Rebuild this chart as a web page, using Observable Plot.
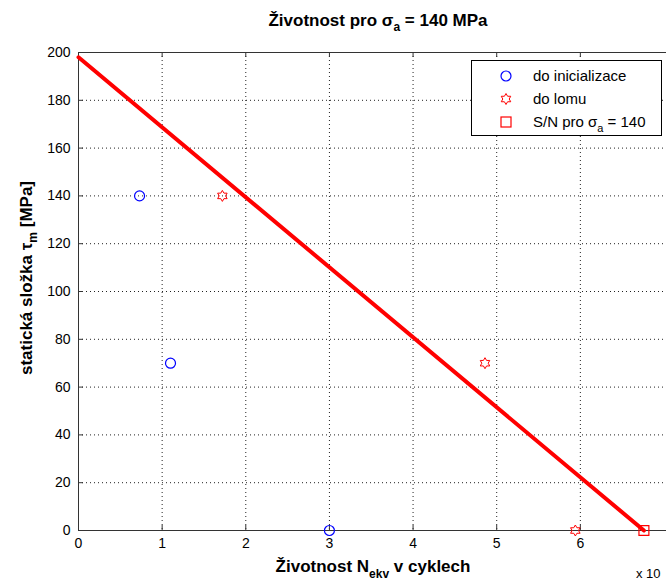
<!DOCTYPE html>
<html>
<head>
<meta charset="utf-8">
<script src="https://cdn.jsdelivr.net/npm/d3@7"></script>
<script src="https://cdn.jsdelivr.net/npm/@observablehq/plot@0.6"></script>
<style>
  html, body { margin: 0; padding: 0; background: #fff; }
  #chart svg { display: block; font-family: "Liberation Sans", Arial, sans-serif; }
</style>
</head>
<body>
<div id="chart"></div>
<script>
// ---- data ----
const xTicks = [0, 1, 2, 3, 4, 5, 6];
const yTicks = [0, 20, 40, 60, 80, 100, 120, 140, 160, 180, 200];
const initN = [0.73, 1.10, 3.00];      // do inicializace
const initS = [140, 70, 0];
const lomN = [1.72, 4.86, 5.94];       // do lomu
const lomS = [140, 70, 0];
const snN = [0, 6.76];                 // S/N pro sigma_a = 140
const snS = [198, 0];
const snPointN = [6.76];
const snPointS = [0];
const legendLabels = ["do inicializace", "do lomu", "S/N pro "];

// ---- layout ----
const W = 666, H = 580;
const mL = 78, mR = 0, mT = 52, mB = 50;
const plotW = W - mL - mR, plotH = H - mT - mB;
const tickLen = 5;
const axisColor = "#333";

const hexagram = {
  draw(ctx, size) {
    const R = Math.sqrt(size / Math.PI);
    const r = R / Math.sqrt(3);
    for (let i = 0; i < 12; i++) {
      const a = -Math.PI / 2 + i * Math.PI / 6;
      const rr = i % 2 === 0 ? R : r;
      const x = rr * Math.cos(a), y = rr * Math.sin(a);
      if (i === 0) ctx.moveTo(x, y); else ctx.lineTo(x, y);
    }
    ctx.closePath();
  }
};

const init = initN.map((n, i) => ({n, s: initS[i]}));
const lom = lomN.map((n, i) => ({n, s: lomS[i]}));
const sn = snN.map((n, i) => ({n, s: snS[i]}));
const snPt = snPointN.map((n, i) => ({n, s: snPointS[i]}));

const chart = Plot.plot({
  width: W, height: H,
  marginLeft: mL, marginRight: mR, marginTop: mT, marginBottom: mB,
  style: {fontFamily: "'Liberation Sans', Arial, sans-serif", fontSize: "14px", color: "#000", background: "#fff"},
  x: {domain: [0, 7.03]},
  y: {domain: [0, 200]},
  marks: [
    // dotted grid
    Plot.ruleX(xTicks.slice(1), {stroke: "#222", strokeDasharray: "1,3", strokeWidth: 1}),
    Plot.ruleY(yTicks.slice(1, -1), {stroke: "#222", strokeDasharray: "1,3", strokeWidth: 1}),
    // frame (left, bottom, top)
    Plot.ruleX([0], {stroke: axisColor, strokeWidth: 1}),
    Plot.ruleY([0], {stroke: axisColor, strokeWidth: 1}),
    Plot.ruleY([200], {stroke: axisColor, strokeWidth: 1}),
    // inward tick stubs
    Plot.ruleX(xTicks, {insetTop: plotH - tickLen, stroke: axisColor}),
    Plot.ruleX(xTicks, {insetBottom: plotH - tickLen, stroke: axisColor}),
    Plot.ruleY(yTicks, {insetRight: plotW - tickLen, stroke: axisColor}),
    // axes labels
    Plot.axisX({ticks: xTicks, tickSize: 0, tickPadding: 8, label: null, fontSize: 14, tickFormat: d => d}),
    Plot.axisY({ticks: yTicks, tickSize: 0, tickPadding: 8, label: null, fontSize: 14, tickFormat: d => d}),
    // S/N line
    Plot.line(sn, {x: "n", y: "s", stroke: "#ff0000", strokeWidth: 4}),
    // markers
    Plot.dot(init, {x: "n", y: "s", r: 5, stroke: "#0000ff", fill: "none", strokeWidth: 1.2}),
    Plot.dot(lom, {x: "n", y: "s", r: 5.5, symbol: hexagram, stroke: "#ff0000", fill: "none", strokeWidth: 1}),
    Plot.dot(snPt, {x: "n", y: "s", r: 5.6, symbol: "square", stroke: "#ff0000", fill: "none", strokeWidth: 1.2})
  ]
});

document.getElementById("chart").appendChild(chart);
const svg = d3.select(chart);
const font = "'Liberation Sans', Arial, sans-serif";

// title
const title = svg.append("text")
  .attr("x", 378).attr("y", 26)
  .attr("text-anchor", "middle")
  .attr("font-family", font).attr("font-size", 17).attr("font-weight", "bold").attr("fill", "#000");
title.append("tspan").text("Životnost pro σ");
title.append("tspan").attr("dy", 5).attr("font-size", 12).text("a");
title.append("tspan").attr("dy", -5).text(" = 140 MPa");

// x label
const xl = svg.append("text")
  .attr("x", 373).attr("y", 572)
  .attr("text-anchor", "middle")
  .attr("font-family", font).attr("font-size", 17).attr("font-weight", "bold").attr("fill", "#000");
xl.append("tspan").text("Životnost N");
xl.append("tspan").attr("dy", 6).attr("font-size", 12).text("ekv");
xl.append("tspan").attr("dy", -6).text(" v cyklech");

// y label
const yl = svg.append("text")
  .attr("transform", "translate(32,278) rotate(-90)")
  .attr("text-anchor", "middle")
  .attr("font-family", font).attr("font-size", 17).attr("font-weight", "bold").attr("fill", "#000");
yl.append("tspan").text("statická složka τ");
yl.append("tspan").attr("dy", 5).attr("font-size", 12).text("m");
yl.append("tspan").attr("dy", -5).text(" [MPa]");

// exponent label
svg.append("text").attr("x", 636).attr("y", 578).attr("text-anchor", "start")
  .attr("font-family", font).attr("font-size", 13).attr("fill", "#000").text("x 10");

// legend
const lg = svg.append("g").attr("text-anchor", "start");
lg.append("rect").attr("x", 471.5).attr("y", 60.5).attr("width", 190).attr("height", 75)
  .attr("fill", "#fff").attr("stroke", "#000").attr("stroke-width", 1);
const rows = [76, 99, 122];
lg.append("circle").attr("cx", 506).attr("cy", rows[0]).attr("r", 5)
  .attr("fill", "none").attr("stroke", "#0000ff").attr("stroke-width", 1.2);
lg.append("path").attr("d", d3.symbol(hexagram, Math.PI * 5.5 * 5.5)())
  .attr("transform", `translate(506,${rows[1]})`)
  .attr("fill", "none").attr("stroke", "#ff0000").attr("stroke-width", 1);
lg.append("rect").attr("x", 501).attr("y", rows[2] - 5).attr("width", 10).attr("height", 10)
  .attr("fill", "none").attr("stroke", "#ff0000").attr("stroke-width", 1.2);
legendLabels.forEach((t, i) => {
  const tx = lg.append("text").attr("x", 533).attr("y", rows[i] + 5).attr("text-anchor", "start")
    .attr("font-family", font).attr("font-size", 15).attr("fill", "#000");
  tx.append("tspan").text(t);
  if (i === 2) {
    tx.append("tspan").text("σ");
    tx.append("tspan").attr("dy", 5).attr("font-size", 11).text("a");
    tx.append("tspan").attr("dy", -5).text(" = 140");
  }
});
</script>
</body>
</html>
